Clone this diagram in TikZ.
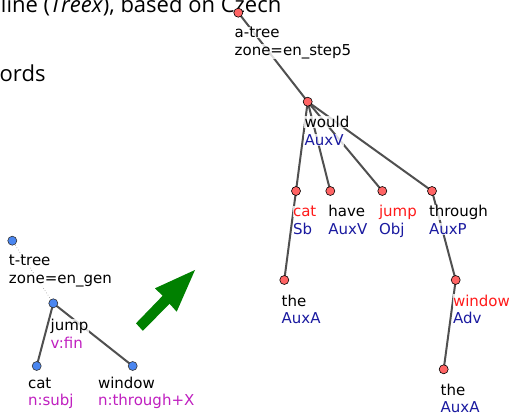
\documentclass[tikz,border=0pt]{standalone}
\usepackage{fontspec}
\setmainfont{DejaVu Sans}
\newfontfamily\titlefont{Open Sans}
\definecolor{edgegray}{HTML}{505050}
\definecolor{nodered}{HTML}{FF6464}
\definecolor{nodeblue}{HTML}{4A86F0}
\definecolor{formred}{HTML}{FF1A1A}
\definecolor{afunblue}{HTML}{1A1AA0}
\definecolor{fmagenta}{HTML}{C020C0}
\definecolor{arrowgreen}{HTML}{008000}
\tikzset{
  anode/.style={circle, draw=black, line width=0.6pt, fill=nodered, minimum size=9pt, inner sep=0pt},
  tnode/.style={circle, draw=black!80, line width=0.6pt, fill=nodeblue, minimum size=9pt, inner sep=0pt},
  edge/.style={draw=edgegray, line width=2pt},
  aux/.style={draw=black!35, line width=0.7pt, dotted},
  lbl/.style={anchor=base west, inner sep=0.5pt, fill=white, fill opacity=0.8, text opacity=1, font=\fontsize{15}{17}\selectfont},
  form/.style={lbl, text=formred},
  afun/.style={lbl, text=afunblue},
  fml/.style={lbl, text=fmagenta},
  title/.style={anchor=base west, inner sep=0pt, font=\titlefont\fontsize{22}{26}\selectfont}
}
\begin{document}
\begin{tikzpicture}[x=1pt,y=-1pt]
\useasboundingbox (0,0) rectangle (509,414);
\clip (0,0) rectangle (509,414);

% slide text behind the trees
\node[title] (head) at (0.8,13) {line (\textit{Treex}), based on Czech};
\node[title] (words) at (-0.5,81.7) {ords};

% ---------- analytical tree ----------
\coordinate (aroot) at (238.3,12.7);
\coordinate (would) at (307.7,101.7);
\coordinate (cat) at (296,191);
\coordinate (have) at (330.3,191);
\coordinate (jump) at (382.3,191);
\coordinate (through) at (432,191);
\coordinate (the) at (284.3,280);
\coordinate (window) at (455.7,280);
\coordinate (theB) at (443.7,369.3);

\draw[edge] (aroot) -- (would);
\draw[edge] (would) -- (cat);
\draw[edge] (would) -- (have);
\draw[edge] (would) -- (jump);
\draw[edge] (would) -- (through);
\draw[edge] (cat) -- (the);
\draw[edge] (through) -- (window);
\draw[edge] (window) -- (theB);

\node[lbl] (arootL) at (234,37.7) {a-tree};
\node[lbl] (arootZ) at (234,55.1) {zone=en\_step5};
\node[lbl] (wouldL) at (304,127.7) {would};
\node[afun] (wouldT) at (304,145.1) {AuxV};
\node[form] (catL) at (292.3,216.7) {cat};
\node[afun] (catT) at (292.3,234.1) {Sb};
\node[lbl] (haveL) at (327.7,216.7) {have};
\node[afun] (haveT) at (327.7,234.1) {AuxV};
\node[form] (jumpL) at (378.3,216.7) {jump};
\node[afun] (jumpT) at (378.3,234.1) {Obj};
\node[lbl] (throughL) at (428.3,216.7) {through};
\node[afun] (throughT) at (428.3,234.1) {AuxP};
\node[lbl] (theL) at (281,306) {the};
\node[afun] (theT) at (281,323.4) {AuxA};
\node[form] (windowL) at (452.3,306) {window};
\node[afun] (windowT) at (452.3,323.4) {Adv};
\node[lbl] (theBL) at (440,395) {the};
\node[afun] (theBT) at (440,412.4) {AuxA};

\foreach \n in {aroot,would,cat,have,jump,through,the,window,theB}
  \node[anode] (c-\n) at (\n) {};

% ---------- tectogrammatical tree ----------
\coordinate (troot) at (12.3,240.7);
\coordinate (tjump) at (53.3,303.3);
\coordinate (tcat) at (36.7,366);
\coordinate (twindow) at (132.7,366);

\draw[aux] (troot) -- (tjump);
\draw[edge] (tjump) -- (tcat);
\draw[edge] (tjump) -- (twindow);

\node[lbl] (trootL) at (8.3,266) {t-tree};
\node[lbl] (trootZ) at (8.3,283.4) {zone=en\_gen};
\node[lbl] (tjumpL) at (50,330.7) {jump};
\node[fml] (tjumpT) at (50,348.1) {v:fin};
\node[lbl] (tcatL) at (27.3,388.3) {cat};
\node[fml] (tcatT) at (27.3,405.7) {n:subj};
\node[lbl] (twindowL) at (97.3,388.3) {window};
\node[fml] (twindowT) at (97.3,405.7) {n:through+X};

\foreach \n in {troot,tjump,tcat,twindow}
  \node[tnode] (c-\n) at (\n) {};

% ---------- transfer arrow ----------
\fill[arrowgreen] (136,323.3) -- (162.6,295.8) -- (155,288.3) -- (195,270)
  -- (176.7,311.7) -- (169.6,303.8) -- (142.8,330.8) -- cycle;
\end{tikzpicture}
\end{document}
